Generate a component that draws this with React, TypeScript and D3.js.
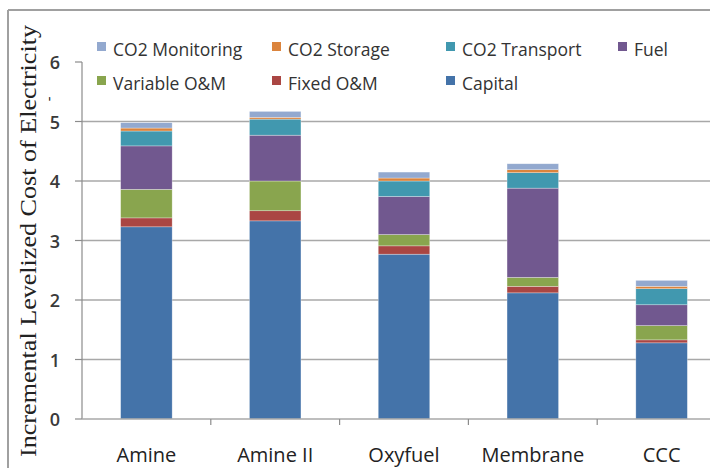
import React from "react";
import * as d3 from "d3";

const categories = ["Amine", "Amine II", "Oxyfuel", "Membrane", "CCC"];
const seriesNames = ["Capital", "Fixed O&M", "Variable O&M", "Fuel", "CO2 Transport", "CO2 Storage", "CO2 Monitoring"];
const capital = [3.23, 3.33, 2.77, 2.12, 1.28];
const fixedOM = [0.15, 0.17, 0.14, 0.11, 0.05];
const variableOM = [0.48, 0.5, 0.19, 0.15, 0.24];
const fuel = [0.73, 0.77, 0.64, 1.5, 0.35];
const co2Transport = [0.25, 0.27, 0.26, 0.26, 0.27];
const co2Storage = [0.05, 0.03, 0.05, 0.05, 0.04];
const co2Monitoring = [0.09, 0.1, 0.1, 0.1, 0.1];
const yTicks = [0, 1, 2, 3, 4, 5, 6];
const colors = ["#4473A9", "#AA4643", "#89A54E", "#71588F", "#4198AF", "#DB843D", "#93A9CF"];
const legendRows = [
  ["CO2 Monitoring", "CO2 Storage", "CO2 Transport", "Fuel"],
  ["Variable O&M", "Fixed O&M", "Capital"],
];

const W = 710, H = 468;
const plotLeft = 82, plotRight = 726, plotTop = 62, plotBottom = 419;

export default function App() {
  const rows = categories.map((c, i) => ({
    cat: c,
    "Capital": capital[i],
    "Fixed O&M": fixedOM[i],
    "Variable O&M": variableOM[i],
    "Fuel": fuel[i],
    "CO2 Transport": co2Transport[i],
    "CO2 Storage": co2Storage[i],
    "CO2 Monitoring": co2Monitoring[i],
  }));
  const stacked = d3.stack<any>().keys(seriesNames)(rows);
  const x = d3.scaleBand().domain(categories).range([plotLeft, plotRight]).paddingInner(0.6).paddingOuter(0.3);
  const xOuter = d3.scaleBand().domain(categories).range([plotLeft, plotRight]);
  const y = d3.scaleLinear().domain([0, 6]).range([plotBottom, plotTop]);
  const font = "'Open Sans', sans-serif";
  const legendX = [97, 272, 446, 618];
  const legendY = [47, 81];
  return (
    <svg width={W} height={H} style={{ position: "absolute", left: 0, top: 0, background: "#fff" }}>
      <rect x={0} y={0} width={W} height={H} fill="#fff" />
      <line x1={8} x2={W} y1={10} y2={10} stroke="#A0A0A0" strokeWidth={2} />
      <line x1={8} x2={8} y1={10} y2={H} stroke="#A0A0A0" strokeWidth={2} />
      {yTicks.filter(t => t > 0 && t < 6).map(t => (
        <line key={t} x1={plotLeft} x2={W} y1={y(t)} y2={y(t)} stroke="#A8A8A8" strokeWidth={1.6} />
      ))}
      {stacked.map((s, si) => (
        <g key={s.key}>
          {s.map((d, i) => (
            <rect key={i} x={x(categories[i])} width={x.bandwidth()} y={y(d[1])} height={y(d[0]) - y(d[1])}
              fill={colors[si]} stroke="#ffffff" strokeOpacity={0.5} strokeWidth={0.6} />
          ))}
        </g>
      ))}
      <line x1={plotLeft} x2={plotLeft} y1={plotTop} y2={plotBottom} stroke="#8C8C8C" strokeWidth={1.2} />
      <line x1={plotLeft} x2={W} y1={plotBottom} y2={plotBottom} stroke="#A8A8A8" strokeWidth={1.6} />
      {yTicks.map(t => (
        <g key={t}>
          <line x1={plotLeft - 7} x2={plotLeft} y1={y(t)} y2={y(t)} stroke="#8C8C8C" strokeWidth={1.2} />
          <text x={60} y={y(t) + 7} textAnchor="end" fontFamily={font} fontSize={18} fontWeight={600} fill="#3a3a3a">{t}</text>
        </g>
      ))}
      {categories.map((c, i) => (
        <g key={c}>
          {i > 0 && <line x1={xOuter(c)} x2={xOuter(c)} y1={plotBottom} y2={plotBottom + 6} stroke="#8C8C8C" strokeWidth={1.2} />}
          <text x={(xOuter(c) as number) + xOuter.bandwidth() / 2} y={462} textAnchor="middle" fontFamily={font} fontSize={20} fill="#222">{c}</text>
        </g>
      ))}
      {legendRows.map((row, ri) => row.map((name, ci) => (
        <g key={name}>
          <rect x={legendX[ci]} y={legendY[ri] - 5} width={9} height={9} fill={colors[seriesNames.indexOf(name)]} />
          <text x={legendX[ci] + 16} y={legendY[ri] + 9} fontFamily={font} fontSize={17.5} fill="#333">{name}</text>
        </g>
      )))}
      <text transform={`translate(36,${241}) rotate(-90)`} textAnchor="middle" fontFamily="'Liberation Serif', serif" fontSize={23} fill="#222"
        textLength={432} lengthAdjust="spacingAndGlyphs">
        Incremental Levelized Cost of Electricity
      </text>
      <text transform="translate(53,99) rotate(-90)" textAnchor="middle" fontFamily="'Liberation Serif', serif" fontSize={14} fill="#222">-</text>
    </svg>
  );
}
